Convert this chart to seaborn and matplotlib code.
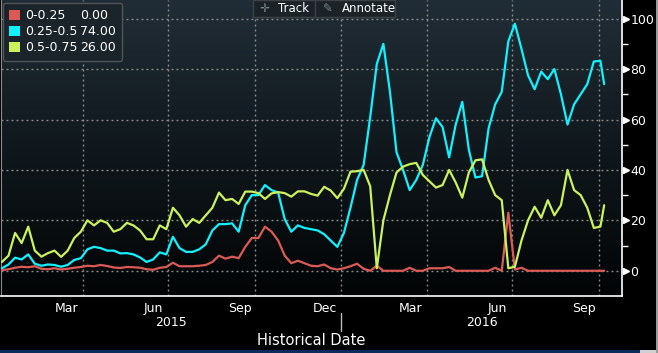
import numpy as np
import pandas as pd
import matplotlib

matplotlib.use("Agg")
import seaborn as sns
from matplotlib import pyplot as plt
from matplotlib import dates as mdates
from matplotlib import ticker
from matplotlib import transforms as mtransforms
from matplotlib.colors import LinearSegmentedColormap
from matplotlib.patches import Patch, Rectangle

# weekly observations, last print on 7 Oct 2016
DATES = pd.date_range("2015-01-05", "2016-10-03", freq="7D").append(
    pd.DatetimeIndex(["2016-10-07"])
)

BUCKETS = ["0-0.25", "0.25-0.5", "0.5-0.75"]
LAST = ["0.00", "74.00", "26.00"]
COLORS = ["#dc5a55", "#10f2ff", "#cbf25c"]

LOW = [
    0.3, 0.6, 1.2, 1.6, 1.4, 1.8, 0.8, 0.6, 1.0, 0.5, 0.8, 1.2, 1.5, 2.0, 1.8, 2.3, 1.9,
    1.3, 1.1, 1.5, 1.4, 1.2, 0.6, 0.4, 1.2, 1.5, 3.2, 1.8, 1.8, 1.8, 2.0,
    2.3, 3.5, 6.0, 4.8, 5.6, 5.0, 9.5, 13.0, 13.0, 17.5, 15.5, 12.0, 6.0, 3.0, 4.0, 3.0,
    2.0, 1.8, 2.5, 1.0, 0.5, 1.0, 1.8, 2.8, 0.8, 0.0, 2.0, 0.0, 0.0, 0.0, 0.0,
    1.2, 0.0, 0.0, 1.0, 1.0, 1.0, 1.5, 0.0, 0.0, 0.0, 0.0, 0.0, 0.0, 1.2, 0.0, 23.0, 0.5, 1.2,
    0.0, 0.0, 0.0, 0.0, 0.0, 0.0, 0.0, 0.0, 0.0, 0.0, 0.0, 0.0, 0.0,
]

MID = [
    1.0, 2.5, 5.2, 4.5, 6.5, 2.8, 2.0, 2.5, 2.3, 1.6, 2.3, 4.3, 5.0, 8.5, 9.5, 9.0, 8.0,
    8.0, 6.9, 7.0, 6.5, 5.3, 3.5, 4.5, 7.3, 6.5, 13.5, 9.0, 7.5, 7.5, 8.5,
    10.5, 16.0, 18.5, 18.5, 18.8, 15.5, 26.0, 30.0, 30.0, 34.0, 32.0, 31.0, 20.5, 15.5, 18.0, 17.0,
    16.5, 16.0, 14.5, 12.0, 9.5, 15.0, 25.0, 36.0, 42.0, 61.0, 82.0, 90.0, 71.0, 47.0, 40.0,
    32.0, 36.0, 42.0, 53.0, 60.5, 57.0, 45.0, 58.0, 67.0, 48.0, 37.0, 37.5, 56.5, 66.0, 71.0, 91.0, 98.0, 88.0,
    77.5, 72.0, 79.0, 76.0, 80.0, 70.0, 58.0, 66.0, 70.0, 74.0, 83.0, 83.3, 74.0,
]

HIGH = [
    3.5, 6.0, 15.0, 11.0, 17.5, 8.0, 5.6, 7.0, 8.0, 5.5, 8.0, 13.0, 15.5, 20.0, 18.0, 20.0, 19.0,
    15.5, 16.5, 19.0, 18.0, 16.0, 12.5, 12.5, 18.0, 16.5, 25.0, 22.0, 17.5, 20.5, 19.0,
    22.0, 25.0, 31.0, 28.0, 28.5, 26.5, 31.4, 31.4, 30.8, 28.5, 30.7, 31.2, 30.8, 29.4, 31.5, 31.5,
    30.5, 29.8, 33.3, 31.8, 28.8, 32.5, 39.3, 39.5, 40.0, 33.5, 1.0, 20.0, 30.0, 39.0, 41.3,
    42.3, 42.8, 38.0, 35.5, 33.0, 34.0, 40.0, 35.0, 29.0, 39.0, 43.8, 44.2, 36.0, 30.0, 28.0, 1.0, 1.6, 12.0,
    20.0, 25.4, 21.0, 28.0, 22.0, 26.0, 40.0, 32.0, 30.0, 25.0, 17.0, 17.5, 26.0,
]

YTICKS = [0, 20, 40, 60, 80, 100]
YMINOR = [10, 30, 50, 70, 90]

sns.set_style("dark")
plt.rcParams["font.family"] = ["DejaVu Sans"]

df = pd.DataFrame({"Date": DATES, BUCKETS[0]: LOW, BUCKETS[1]: MID, BUCKETS[2]: HIGH})
df = df.melt(id_vars="Date", var_name="Bucket", value_name="Pct")

fig = plt.figure(figsize=(6.58, 3.53), dpi=100, facecolor="black")
ax = fig.add_axes([0.0015, 0.1615, 0.9438, 0.8385])
ax.set_facecolor("black")

sns.lineplot(
    data=df,
    x="Date",
    y="Pct",
    hue="Bucket",
    hue_order=BUCKETS,
    palette=COLORS,
    linewidth=1.6,
    legend=False,
    ax=ax,
    zorder=4,
)

# background gradient of the plot area
bg = LinearSegmentedColormap.from_list("bg", ["#212d36", "#10181d", "#020405"])
ax.imshow(
    np.linspace(0, 1, 256).reshape(-1, 1),
    cmap=bg,
    extent=[0, 1, 0, 1],
    transform=ax.transAxes,
    aspect="auto",
    zorder=0,
)

x0, x1 = pd.Timestamp("2015-01-04"), pd.Timestamp("2016-10-26")
ax.set_xlim(x0, x1)
ax.set_ylim(-10, 107.4)

grid_kw = dict(color="#8c8c8c", linestyle=(0, (1.4, 2.2)), linewidth=1.0, zorder=1)
for v in YTICKS:
    ax.axhline(v, **grid_kw)
for d in pd.date_range("2015-04-01", "2016-10-01", freq="QS"):
    ax.axvline(d, **grid_kw)

# y axis on the right
ax.yaxis.tick_right()
ax.yaxis.set_major_locator(ticker.FixedLocator(YTICKS))
ax.yaxis.set_minor_locator(ticker.FixedLocator(YMINOR))
ax.tick_params(axis="y", which="major", length=0, pad=6, labelcolor="white", labelsize=9)
ax.tick_params(axis="y", which="minor", length=4, width=1, color="white", direction="out")
tri = ax.get_yaxis_transform() + mtransforms.ScaledTranslation(0.04, 0, fig.dpi_scale_trans)
ax.plot([1] * len(YTICKS), YTICKS, ls="none", marker=">", ms=5, color="white",
        transform=tri, clip_on=False)

# x axis: month ticks, quarter month labels, years underneath
ax.xaxis.set_major_locator(mdates.MonthLocator(bymonth=[3, 6, 9, 12], bymonthday=15))
ax.xaxis.set_major_formatter(mdates.DateFormatter("%b"))
ax.xaxis.set_minor_locator(mdates.MonthLocator())
ax.tick_params(axis="x", which="major", length=0, pad=4, labelcolor="white", labelsize=9)
ax.tick_params(axis="x", which="minor", length=4, width=1, color="white", direction="out")

xt = ax.get_xaxis_transform()
jan16 = mdates.date2num(pd.Timestamp("2016-01-01"))
lo, hi = mdates.date2num(x0), mdates.date2num(x1)
ax.text((lo + jan16) / 2, -0.088, "2015", transform=xt, ha="center", va="center",
        color="white", fontsize=9)
ax.text((jan16 + hi) / 2, -0.088, "2016", transform=xt, ha="center", va="center",
        color="white", fontsize=9)
ax.plot([jan16, jan16], [-0.058, -0.118], transform=xt, color="#bbbbbb", lw=1, clip_on=False)

ax.set_xlabel("Historical Date", color="white", fontsize=10.5)
ax.set_ylabel("")
ax.xaxis.set_label_coords(0.5, -0.152)
ax.xaxis.label.set_va("center")

ax.spines["top"].set_visible(False)
ax.spines["left"].set_color("#8a8a8a")
ax.spines["right"].set_color("white")
ax.spines["bottom"].set_color("white")
ax.spines["right"].set_linewidth(1.2)
ax.spines["bottom"].set_linewidth(1.2)

# legend with current values
handles = [Patch(fc=c, ec="none") for c in COLORS] + [Patch(fc="none", ec="none")] * 3
leg = ax.legend(
    handles,
    BUCKETS + LAST,
    ncol=2,
    loc="upper left",
    bbox_to_anchor=(0.003, 0.99),
    borderaxespad=0,
    frameon=True,
    facecolor="#1b242a",
    edgecolor="#50555a",
    framealpha=1,
    fontsize=9,
    handlelength=0.9,
    handleheight=0.9,
    handletextpad=0.35,
    columnspacing=-1.0,
    labelspacing=0.25,
    borderpad=0.5,
)
for t in leg.get_texts():
    t.set_color("white")
leg.set_zorder(10)

# Track / Annotate toolbar
ty = 1 - 8.5 / 296
ax.add_patch(Rectangle((252 / 622, 1 - 17 / 296), 143 / 622, 17 / 296, transform=ax.transAxes,
                       fc="#1b2329", ec="#3b4146", lw=1, zorder=8, clip_on=False))
ax.plot([315 / 622, 315 / 622], [1 - 17 / 296, 1], transform=ax.transAxes, color="#3b4146",
        lw=1, zorder=9)
ax.text(264 / 622, ty, "\u271b", transform=ax.transAxes, ha="center", va="center",
        color="#7d858c", fontsize=8.5, zorder=9)
ax.text(277 / 622, ty, "Track", transform=ax.transAxes, ha="left", va="center",
        color="white", fontsize=8.5, zorder=9)
ax.text(327 / 622, ty, "\u270e", transform=ax.transAxes, ha="center", va="center",
        color="#7d858c", fontsize=8.5, zorder=9)
ax.text(341 / 622, ty, "Annotate", transform=ax.transAxes, ha="left", va="center",
        color="white", fontsize=8.5, zorder=9)

# window edges
fig.add_artist(Rectangle((0, 0), 640 / 658, 3 / 353, transform=fig.transFigure,
                         fc="#0c2a5c", ec="none"))
fig.add_artist(Rectangle((640 / 658, 0), 18 / 658, 3 / 353, transform=fig.transFigure,
                         fc="#d0d0d0", ec="none"))
fig.add_artist(Rectangle((656 / 658, 0), 2 / 658, 1, transform=fig.transFigure,
                         fc="#9a9a9a", ec="none"))

fig.savefig("out.png", dpi=100, facecolor="black")
